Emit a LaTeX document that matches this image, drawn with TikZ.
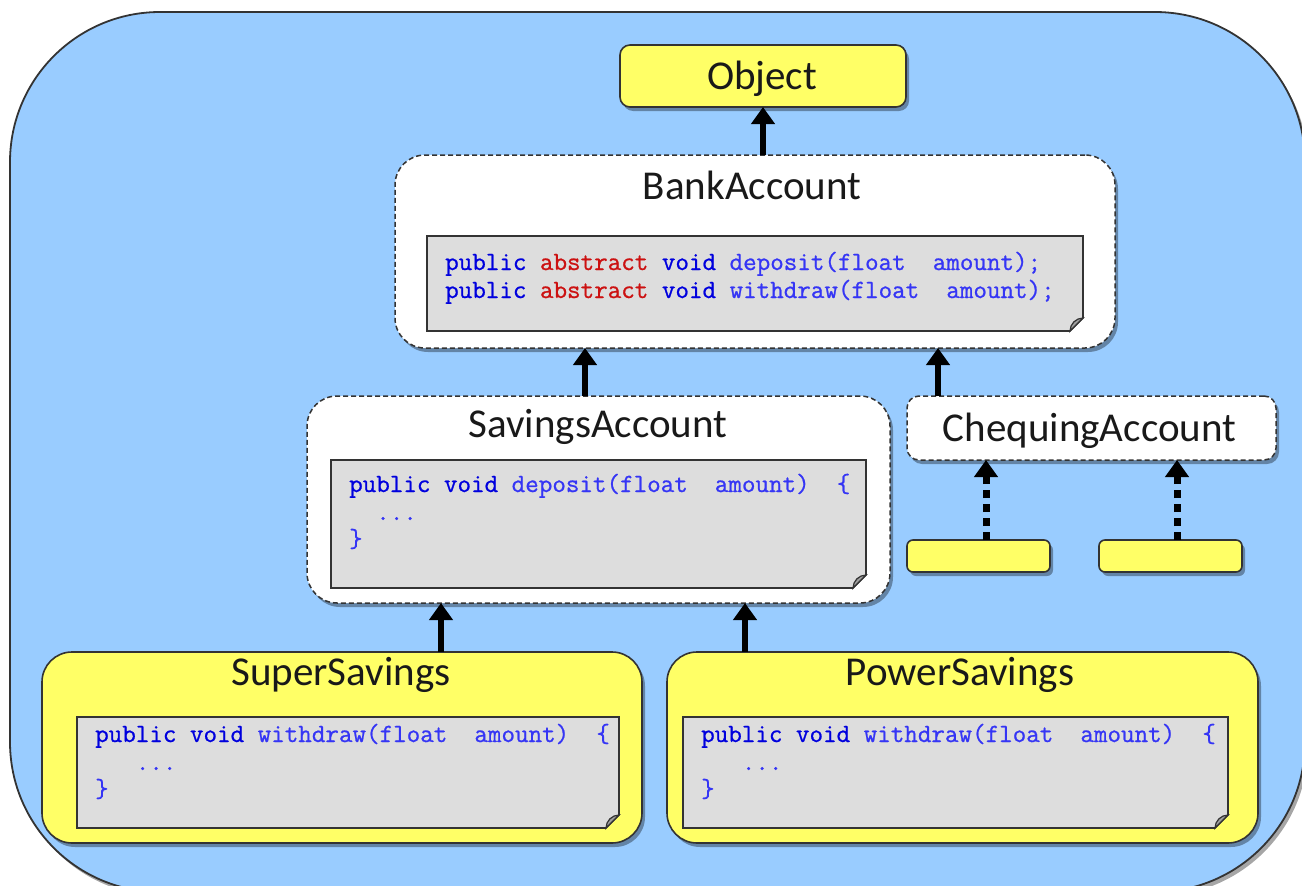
\documentclass[tikz,border=0pt]{standalone}
\usepackage{fontspec}
\setmainfont{Carlito}
\newfontfamily\codefont[FakeBold=0.8]{Latin Modern Mono}
\usetikzlibrary{shadows,arrows.meta}
\definecolor{bgblue}{HTML}{99CCFF}
\definecolor{boxyellow}{HTML}{FFFF66}
\definecolor{codegray}{HTML}{DDDDDD}
\definecolor{edge}{HTML}{333333}
\definecolor{kwblue}{HTML}{0000DD}
\definecolor{idblue}{HTML}{3535F5}
\definecolor{abred}{HTML}{CC1111}
\newcommand\ckw[1]{\textcolor{kwblue}{#1}}
\newcommand\cab[1]{\textcolor{abred}{#1}}
\newcommand\cid[1]{\textcolor{idblue}{#1}}
\newcommand\dogear[1]{%
  \filldraw[fill=codegray,draw=edge,line width=1.6pt] (#1.north west) -- (#1.north east) -- ([yshift=13pt]#1.south east) -- ([xshift=-13pt]#1.south east) -- (#1.south west) -- cycle;
  \filldraw[fill=gray!75,draw=edge,line width=1.2pt] ([yshift=13pt]#1.south east) -- ([xshift=-13pt]#1.south east) .. controls ([xshift=-13pt,yshift=7pt]#1.south east) and ([xshift=-7pt,yshift=13pt]#1.south east) .. cycle;}
\tikzset{
  shade/.style={drop shadow={shadow xshift=3pt,shadow yshift=-4pt,opacity=0.35,fill=black}},
  dashbox/.style={draw=edge,fill=white,line width=1.5pt,dash pattern=on 5pt off 3pt,shade},
  plainbox/.style={inner sep=0pt,outer sep=0pt},
  codeframe/.style={inner sep=0pt,outer sep=0pt,draw=none,fill=none},
  title/.style={font=\fontsize{41}{48}\selectfont,text=black!90,inner sep=0pt,anchor=base},
  code/.style={font=\codefont\fontsize{26.3}{28}\selectfont,inner sep=0pt,anchor=base west},
  inh/.style={line width=6.5pt,-{Triangle[width=23pt,length=17pt]}},
  impl/.style={line width=7pt,dash pattern=on 8pt off 6pt,-{Triangle[width=23pt,length=17pt]}},
}
\begin{document}
\begin{tikzpicture}[x=1pt,y=-1pt]
\useasboundingbox (0,0) rectangle (1302,886);
\fill[white] (0,0) rectangle (1302,886);
\clip (0,0) rectangle (1302,886);
% outer frame
\draw[fill=bgblue,draw=edge,line width=1.8pt,rounded corners=150pt,shade] (10,12) rectangle (1305,892);

% Object
\node[plainbox,draw=edge,fill=boxyellow,line width=1.6pt,rounded corners=10pt,shade,minimum width=286pt,minimum height=62pt] (obj) at (763,76) {};
\node[title] (objt) at (762,89) {Object};

% BankAccount
\node[plainbox,dashbox,rounded corners=30pt,minimum width=720pt,minimum height=193pt] (bank) at (755,251.5) {};
\node[title] (bankt) at (752,199) {BankAccount};
\node[codeframe,minimum width=656pt,minimum height=95pt,anchor=north west] (bacode) at (427,236) {};
\dogear{bacode}
\node[code] (ba1) at (445,270) {\ckw{public} \cab{abstract} \ckw{void} \cid{deposit(float\ \ amount);}};
\node[code] (ba2) at (445,298) {\ckw{public} \cab{abstract} \ckw{void} \cid{withdraw(float\ \ amount);}};

% SavingsAccount
\node[plainbox,dashbox,rounded corners=30pt,minimum width=583pt,minimum height=207pt] (sav) at (598.5,499.5) {};
\node[title] (savt) at (598,437) {SavingsAccount};
\node[codeframe,minimum width=535pt,minimum height=128pt,anchor=north west] (savcode) at (331,460) {};
\dogear{savcode}
\node[code] (sa1) at (349,492) {\ckw{public void} \cid{deposit(float\ \ amount)\ \ \{}};
\node[code] (sa2) at (349,520) {\cid{\ \ ...}};
\node[code] (sa3) at (349,547) {\cid{\}}};

% ChequingAccount
\node[plainbox,dashbox,rounded corners=12pt,minimum width=369pt,minimum height=64pt] (cheq) at (1091.5,428) {};
\node[title] (cheqt) at (1089.5,441) {ChequingAccount};

% small yellow boxes
\node[plainbox,draw=edge,fill=boxyellow,line width=1.6pt,rounded corners=6pt,shade,minimum width=143pt,minimum height=32pt] (y1) at (978.5,556) {};
\node[plainbox,draw=edge,fill=boxyellow,line width=1.6pt,rounded corners=6pt,shade,minimum width=143pt,minimum height=32pt] (y2) at (1170.5,556) {};

% SuperSavings
\node[plainbox,draw=edge,fill=boxyellow,line width=1.6pt,rounded corners=30pt,shade,minimum width=600pt,minimum height=191pt] (sup) at (342,747.5) {};
\node[title] (supt) at (341,685) {SuperSavings};
\node[codeframe,minimum width=542pt,minimum height=111pt,anchor=north west] (supcode) at (77,717) {};
\dogear{supcode}
\node[code] (su1) at (95,742) {\ckw{public void} \cid{withdraw(float\ \ amount)\ \ \{}};
\node[code] (su2) at (95,770) {\cid{\ \ \ ...}};
\node[code] (su3) at (95,797) {\cid{\}}};

% PowerSavings
\node[plainbox,draw=edge,fill=boxyellow,line width=1.6pt,rounded corners=30pt,shade,minimum width=591pt,minimum height=191pt] (pow) at (962.5,747.5) {};
\node[title] (powt) at (960,685) {PowerSavings};
\node[codeframe,minimum width=545pt,minimum height=111pt,anchor=north west] (powcode) at (683,717) {};
\dogear{powcode}
\node[code] (po1) at (701,742) {\ckw{public void} \cid{withdraw(float\ \ amount)\ \ \{}};
\node[code] (po2) at (701,770) {\cid{\ \ \ ...}};
\node[code] (po3) at (701,797) {\cid{\}}};

% connectors
\draw[inh] (obj.south |- bank.north) -- (obj.south);
\draw[inh] ([xshift=-13.5pt]sav.north) -- ([xshift=-13.5pt]sav.north |- bank.south);
\draw[inh] ([xshift=-153.5pt]cheq.north) -- ([xshift=-153.5pt]cheq.north |- bank.south);
\draw[impl] ([xshift=7.5pt]y1.north) -- ([xshift=7.5pt]y1.north |- cheq.south);
\draw[impl] ([xshift=6.5pt]y2.north) -- ([xshift=6.5pt]y2.north |- cheq.south);
\draw[inh] ([xshift=99pt]sup.north) -- ([xshift=99pt]sup.north |- sav.south);
\draw[inh] ([xshift=-217.5pt]pow.north) -- ([xshift=-217.5pt]pow.north |- sav.south);
\end{tikzpicture}
\end{document}
